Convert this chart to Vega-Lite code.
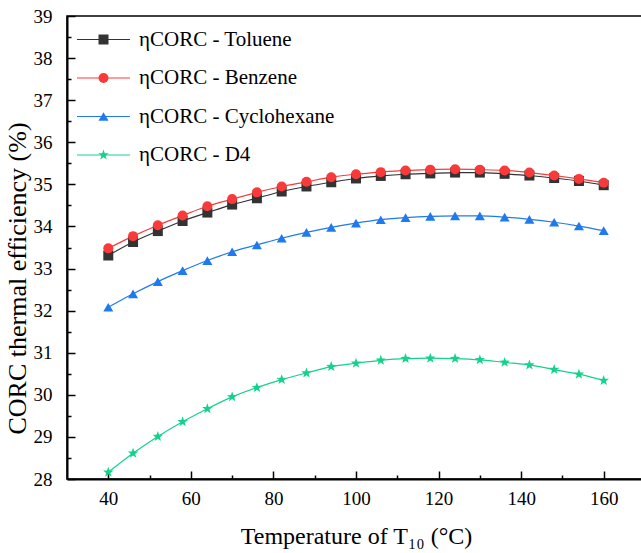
{
  "$schema": "https://vega.github.io/schema/vega-lite/v6.json",
  "width": 578,
  "height": 463,
  "autosize": "none",
  "padding": {"left": 67, "top": 16, "right": 0, "bottom": 74},
  "config": {
    "view": {"stroke": "black", "strokeWidth": 1.5},
    "font": "Liberation Serif",
    "axis": {
      "grid": false,
      "domainColor": "black",
      "domainWidth": 2,
      "tickColor": "black",
      "tickWidth": 1.5,
      "labelColor": "black",
      "titleColor": "black",
      "labelFont": "Liberation Serif",
      "titleFont": "Liberation Serif",
      "labelFontSize": 19,
      "titleFontSize": 24,
      "titleFontWeight": "normal"
    },
    "legend": {
      "orient": "none", "legendX": 26, "legendY": 13, "title": null,
      "labelFont": "Liberation Serif", "labelFontSize": 21, "labelColor": "black", "labelLimit": 400,
      "labelOffset": 25, "rowPadding": 16.5, "padding": 0, "symbolSize": 100
    }
  },
  "data": {
    "values": [
      {"fluid": "Toluene", "T": 40, "eta": 33.31}, {"fluid": "Toluene", "T": 46, "eta": 33.63}, {"fluid": "Toluene", "T": 52, "eta": 33.89}, {"fluid": "Toluene", "T": 58, "eta": 34.13}, {"fluid": "Toluene", "T": 64, "eta": 34.33}, {"fluid": "Toluene", "T": 70, "eta": 34.52}, {"fluid": "Toluene", "T": 76, "eta": 34.67}, {"fluid": "Toluene", "T": 82, "eta": 34.83}, {"fluid": "Toluene", "T": 88, "eta": 34.95}, {"fluid": "Toluene", "T": 94, "eta": 35.05}, {"fluid": "Toluene", "T": 100, "eta": 35.14}, {"fluid": "Toluene", "T": 106, "eta": 35.20}, {"fluid": "Toluene", "T": 112, "eta": 35.24}, {"fluid": "Toluene", "T": 118, "eta": 35.26}, {"fluid": "Toluene", "T": 124, "eta": 35.28}, {"fluid": "Toluene", "T": 130, "eta": 35.28}, {"fluid": "Toluene", "T": 136, "eta": 35.25}, {"fluid": "Toluene", "T": 142, "eta": 35.21}, {"fluid": "Toluene", "T": 148, "eta": 35.15}, {"fluid": "Toluene", "T": 154, "eta": 35.08}, {"fluid": "Toluene", "T": 160, "eta": 34.98},
      {"fluid": "Benzene", "T": 40, "eta": 33.48}, {"fluid": "Benzene", "T": 46, "eta": 33.77}, {"fluid": "Benzene", "T": 52, "eta": 34.03}, {"fluid": "Benzene", "T": 58, "eta": 34.26}, {"fluid": "Benzene", "T": 64, "eta": 34.48}, {"fluid": "Benzene", "T": 70, "eta": 34.65}, {"fluid": "Benzene", "T": 76, "eta": 34.81}, {"fluid": "Benzene", "T": 82, "eta": 34.95}, {"fluid": "Benzene", "T": 88, "eta": 35.06}, {"fluid": "Benzene", "T": 94, "eta": 35.17}, {"fluid": "Benzene", "T": 100, "eta": 35.24}, {"fluid": "Benzene", "T": 106, "eta": 35.29}, {"fluid": "Benzene", "T": 112, "eta": 35.33}, {"fluid": "Benzene", "T": 118, "eta": 35.35}, {"fluid": "Benzene", "T": 124, "eta": 35.36}, {"fluid": "Benzene", "T": 130, "eta": 35.35}, {"fluid": "Benzene", "T": 136, "eta": 35.33}, {"fluid": "Benzene", "T": 142, "eta": 35.28}, {"fluid": "Benzene", "T": 148, "eta": 35.21}, {"fluid": "Benzene", "T": 154, "eta": 35.13}, {"fluid": "Benzene", "T": 160, "eta": 35.04},
      {"fluid": "Cyclohexane", "T": 40, "eta": 32.08}, {"fluid": "Cyclohexane", "T": 46, "eta": 32.40}, {"fluid": "Cyclohexane", "T": 52, "eta": 32.69}, {"fluid": "Cyclohexane", "T": 58, "eta": 32.95}, {"fluid": "Cyclohexane", "T": 64, "eta": 33.19}, {"fluid": "Cyclohexane", "T": 70, "eta": 33.40}, {"fluid": "Cyclohexane", "T": 76, "eta": 33.56}, {"fluid": "Cyclohexane", "T": 82, "eta": 33.72}, {"fluid": "Cyclohexane", "T": 88, "eta": 33.86}, {"fluid": "Cyclohexane", "T": 94, "eta": 33.98}, {"fluid": "Cyclohexane", "T": 100, "eta": 34.08}, {"fluid": "Cyclohexane", "T": 106, "eta": 34.16}, {"fluid": "Cyclohexane", "T": 112, "eta": 34.21}, {"fluid": "Cyclohexane", "T": 118, "eta": 34.24}, {"fluid": "Cyclohexane", "T": 124, "eta": 34.25}, {"fluid": "Cyclohexane", "T": 130, "eta": 34.25}, {"fluid": "Cyclohexane", "T": 136, "eta": 34.22}, {"fluid": "Cyclohexane", "T": 142, "eta": 34.17}, {"fluid": "Cyclohexane", "T": 148, "eta": 34.10}, {"fluid": "Cyclohexane", "T": 154, "eta": 34.01}, {"fluid": "Cyclohexane", "T": 160, "eta": 33.90},
      {"fluid": "D4", "T": 40, "eta": 28.16}, {"fluid": "D4", "T": 46, "eta": 28.61}, {"fluid": "D4", "T": 52, "eta": 29.01}, {"fluid": "D4", "T": 58, "eta": 29.36}, {"fluid": "D4", "T": 64, "eta": 29.67}, {"fluid": "D4", "T": 70, "eta": 29.95}, {"fluid": "D4", "T": 76, "eta": 30.17}, {"fluid": "D4", "T": 82, "eta": 30.36}, {"fluid": "D4", "T": 88, "eta": 30.52}, {"fluid": "D4", "T": 94, "eta": 30.67}, {"fluid": "D4", "T": 100, "eta": 30.75}, {"fluid": "D4", "T": 106, "eta": 30.82}, {"fluid": "D4", "T": 112, "eta": 30.86}, {"fluid": "D4", "T": 118, "eta": 30.87}, {"fluid": "D4", "T": 124, "eta": 30.86}, {"fluid": "D4", "T": 130, "eta": 30.83}, {"fluid": "D4", "T": 136, "eta": 30.77}, {"fluid": "D4", "T": 142, "eta": 30.71}, {"fluid": "D4", "T": 148, "eta": 30.60}, {"fluid": "D4", "T": 154, "eta": 30.49}, {"fluid": "D4", "T": 160, "eta": 30.34}
    ]
  },
  "encoding": {
    "x": {
      "field": "T", "type": "quantitative",
      "scale": {"domain": [30, 170], "nice": false, "zero": false},
      "axis": {
        "title": "Temperature of T₁₀ (°C)",
        "values": [40, 50, 60, 70, 80, 90, 100, 110, 120, 130, 140, 150, 160],
        "labelExpr": "datum.value % 20 === 0 ? format(datum.value, 'd') : ''",
        "tickSize": {"condition": {"test": "datum.value % 20 === 0", "value": -8}, "value": -4},
        "labelPadding": 18,
        "titlePadding": 12,
        "labelFlush": false,
        "labelOverlap": false
      }
    },
    "y": {
      "field": "eta", "type": "quantitative",
      "scale": {"domain": [28, 39], "nice": false, "zero": false},
      "axis": {
        "title": "CORC thermal efficiency (%)",
        "titleFontSize": 26,
        "titleY": 262,
        "values": [28, 28.5, 29, 29.5, 30, 30.5, 31, 31.5, 32, 32.5, 33, 33.5, 34, 34.5, 35, 35.5, 36, 36.5, 37, 37.5, 38, 38.5, 39],
        "labelExpr": "datum.value % 1 === 0 ? format(datum.value, 'd') : ''",
        "tickSize": {"condition": {"test": "datum.value % 1 === 0", "value": -8}, "value": -4},
        "labelPadding": 23,
        "titlePadding": 3,
        "labelFlush": false,
        "labelOverlap": false
      }
    }
  },
  "layer": [
    {
      "mark": {"type": "line", "interpolate": "monotone", "strokeWidth": 1.2},
      "encoding": {
        "color": {
          "field": "fluid", "type": "nominal",
          "scale": {"domain": ["Toluene", "Benzene", "Cyclohexane", "D4"], "range": ["#333333", "#f93a3a", "#1f7aee", "#14d28c"]},
          "legend": {
            "labelExpr": "'ηCORC - ' + datum.label",
            "labelOpacity": 0,
            "symbolType": "M-5.3,0H5.3",
            "symbolStrokeWidth": 1.2
          }
        }
      }
    },
    {
      "mark": {"type": "point", "filled": true, "size": 100, "opacity": 1},
      "encoding": {
        "color": {
          "field": "fluid", "type": "nominal",
          "scale": {"domain": ["Toluene", "Benzene", "Cyclohexane", "D4"], "range": ["#333333", "#f93a3a", "#1f7aee", "#14d28c"]},
          "legend": {"labelExpr": "'ηCORC - ' + datum.label"}
        },
        "shape": {
          "field": "fluid", "type": "nominal",
          "scale": {"domain": ["Toluene", "Benzene", "Cyclohexane", "D4"], "range": ["square", "circle", "triangle-up", "M0,-1.1L0.26,-0.36L1.05,-0.34L0.42,0.14L0.65,0.89L0,0.44L-0.65,0.89L-0.42,0.14L-1.05,-0.34L-0.26,-0.36Z"]},
          "legend": {"labelExpr": "'ηCORC - ' + datum.label"}
        }
      }
    }
  ],
  "resolve": {"legend": {"color": "independent", "shape": "independent"}}
}
